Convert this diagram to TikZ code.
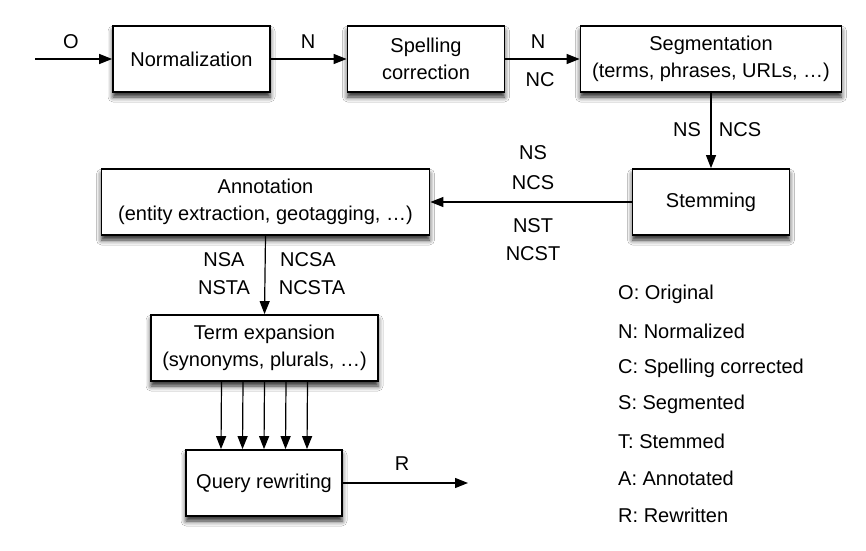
\documentclass[tikz,border=0pt]{standalone}
\usepackage{fontspec}
\setmainfont{Liberation Sans}
\usetikzlibrary{arrows.meta,shadows.blur}
\begin{document}
\begin{tikzpicture}[x=1pt,y=-1pt,
  box/.style={draw=black,line width=1.8pt,fill=white,align=center,inner sep=0pt,
    font=\fontsize{20}{27}\selectfont,
    blur shadow={shadow xshift=0pt,shadow yshift=-5pt,shadow blur radius=5pt,shadow opacity=85}},
  lab/.style={font=\fontsize{20}{24}\selectfont,inner sep=0pt},
  leg/.style={font=\fontsize{20}{24}\selectfont,inner sep=0pt,anchor=west},
  arr/.style={line width=1.2pt,-{Triangle[length=13pt,width=10pt]}}]
\useasboundingbox (0,0) rectangle (866,550);
\fill[white] (0,0) rectangle (866,550);
% boxes
\node[box,minimum width=157pt,minimum height=66pt] (norm) at (191.5,59) {Normalization};
\node[box,minimum width=157pt,minimum height=66pt] (spell) at (426,59) {Spelling\\correction};
\node[box,minimum width=261pt,minimum height=66pt] (seg) at (711,59) {Segmentation\\(terms, phrases, URLs, \dots)};
\node[box,minimum width=157pt,minimum height=66pt] (stem) at (711,202) {Stemming};
\node[box,minimum width=328pt,minimum height=66pt] (annot) at (265.5,202) {Annotation\\(entity extraction, geotagging, \dots)};
\node[box,minimum width=227pt,minimum height=66pt] (term) at (264.5,348) {Term expansion\\(synonyms, plurals, \dots)};
\node[box,minimum width=156pt,minimum height=66pt] (query) at (264,483) {Query rewriting};
\coordinate (in) at (35,59);
\coordinate (out) at (468,483);
% connectors
\draw[arr] (in) -- (norm.west);
\draw[arr] (norm.east) -- (spell.west);
\draw[arr] (spell.east) -- (seg.west);
\draw[arr] (seg.south) -- (stem.north);
\draw[arr] (stem.west) -- (annot.east);
\draw[arr] (annot.south) -- (term.north);
\foreach \d in {-43,-21.5,0,21.5,43}
  \draw[arr] ([xshift=\d pt]term.south) -- ([xshift=\d pt]query.north);
\draw[arr] (query.east) -- (out);
% labels
\node[lab] (lO) at (71,42) {O};
\node[lab] (lN1) at (308,42) {N};
\node[lab] (lN2) at (538,42) {N};
\node[lab] (lNC) at (540,80) {NC};
\node[lab] (lNS) at (687,130) {NS};
\node[lab] (lNCS) at (740,130) {NCS};
\node[lab] (lNS2) at (533,153) {NS};
\node[lab] (lNCS2) at (533,183) {NCS};
\node[lab] (lNST) at (533,226) {NST};
\node[lab] (lNCST) at (533,254) {NCST};
\node[lab] (lNSA) at (224,260) {NSA};
\node[lab] (lNCSA) at (308,260) {NCSA};
\node[lab] (lNSTA) at (224,288) {NSTA};
\node[lab] (lNCSTA) at (312,288) {NCSTA};
\node[lab] (lR) at (402,464) {R};
% legend
\node[leg] (g1) at (618,294) {O: Original};
\node[leg] (g2) at (618,331) {N: Normalized};
\node[leg] (g3) at (618,368) {C: Spelling corrected};
\node[leg] (g4) at (618,404) {S: Segmented};
\node[leg] (g5) at (618,441) {T: Stemmed};
\node[leg] (g6) at (618,478) {A: Annotated};
\node[leg] (g7) at (618,515) {R: Rewritten};
\end{tikzpicture}
\end{document}
